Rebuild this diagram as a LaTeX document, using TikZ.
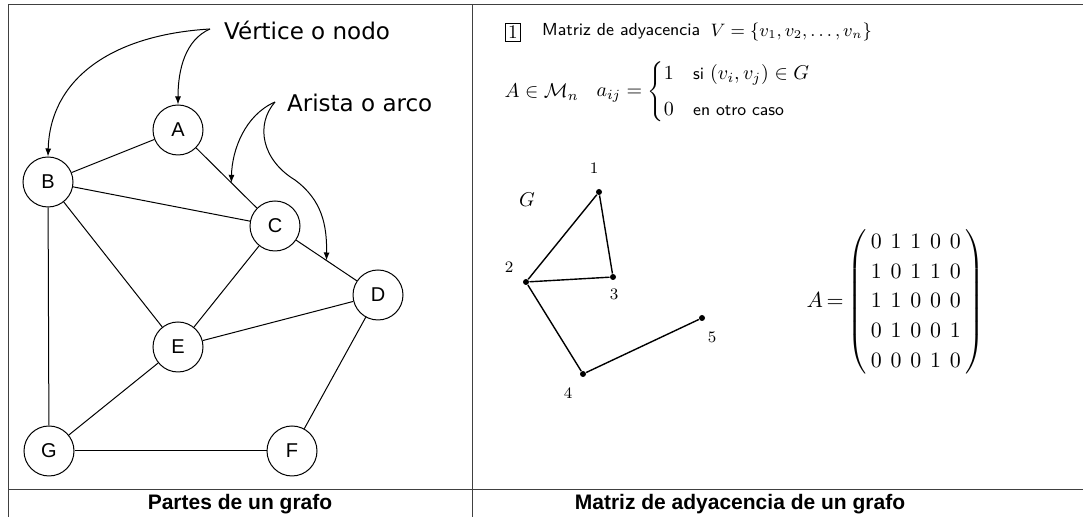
\documentclass[tikz,border=0pt]{standalone}
\usepackage{amsmath}
\usepackage{fontspec}
\newfontfamily\callfont{DejaVu Sans}
\newfontfamily\arialfont{Liberation Sans}
\usetikzlibrary{arrows.meta,calc}
\newcommand{\sftxt}[1]{\text{\sffamily\fontsize{8.6}{10}\selectfont #1}}

\begin{document}
\begin{tikzpicture}[x=0.5pt,y=-0.5pt,line width=0.5pt,
vertex/.style={circle,draw,minimum size=25pt,inner sep=0pt,font=\arialfont\fontsize{10}{10}\selectfont},
dot/.style={circle,fill,inner sep=0pt,minimum size=3pt},
numlabel/.style={font=\fontsize{8}{9}\selectfont,inner sep=1pt},
callout/.style={-{Latex[length=4pt,width=3pt]}},
calltext/.style={anchor=west,font=\callfont\fontsize{11.5}{13}\selectfont},
mathtext/.style={anchor=west,font=\fontsize{9.6}{11.5}\selectfont,inner sep=0pt},
caption/.style={font=\arialfont\bfseries\fontsize{10.5}{12}\selectfont}]

\useasboundingbox (0,0) rectangle (1083,517);

% frame
\draw[black!75] (8,517) -- (8,5) -- (1083,5);
\draw[black!75] (472,5) -- (472,517);
\draw[black!75] (8,490) -- (1083,490);

% partes de un grafo
\node[vertex] (A) at (178,130) {A};
\node[vertex] (B) at (48,182) {B};
\node[vertex] (C) at (275,226) {C};
\node[vertex] (D) at (378,295) {D};
\node[vertex] (E) at (178,347) {E};
\node[vertex] (F) at (292,451) {F};
\node[vertex] (G) at (49,451) {G};

\draw (A) -- (B);
\draw (A) -- (C);
\draw (B) -- (C);
\draw (B) -- (E);
\draw (B) -- (G);
\draw (C) -- (E);
\draw (C) -- (D);
\draw (D) -- (E);
\draw (D) -- (F);
\draw (E) -- (G);
\draw (G) -- (F);

\node[calltext] (vlab) at (217,30) {Vértice o nodo};
\node[calltext] (alab) at (280,103) {Arista o arco};
\coordinate (vfrom) at (210,29);
\coordinate (afrom) at (275,102);
\coordinate (tipAC) at ($(A)!0.55!(C)$);
\coordinate (tipCD) at ($(C)!0.5!(D)$);

\draw[callout] (vfrom) .. controls (110,35) and (50,80) .. (B.north);
\draw[callout] (vfrom) .. controls (185,40) and (178,70) .. (A.north);
\draw[callout] (afrom) .. controls (245,115) and (232,150) .. (tipAC);
\draw[callout] (afrom) .. controls (255,125) and (262,160) .. (295,180)
  .. controls (322,200) and (327,225) .. (tipCD);

\node[caption] (cap1) at (240,504) {Partes de un grafo};

% matriz de adyacencia
\node[draw,inner sep=1.3pt,font=\fontsize{9.6}{11.5}\selectfont,line width=0.4pt] (box) at (513,32) {1};
\node[anchor=west,font=\sffamily\fontsize{8.7}{10.5}\selectfont] (title) at (535,31) {Matriz de adyacencia};
\node[mathtext,font=\fontsize{8.6}{10.5}\selectfont] (vset) at (710,32) {$V=\{v_1,v_2,\ldots,v_n\}$};
\node[mathtext] (amn) at (504,92) {$A\in\mathcal{M}_n$};
\node[mathtext] (aij) at (596,92) {$a_{ij}=\begin{cases}1 & \sftxt{si } (v_i,v_j)\in G\\[4pt]
  0 & \sftxt{en otro caso}\end{cases}$};

\node[font=\fontsize{10}{12}\selectfont\itshape] (gname) at (527,200) {$G$};
\node[dot] (v1) at (599,192) {};
\node[dot] (v2) at (526,282) {};
\node[dot] (v3) at (613,277) {};
\node[dot] (v4) at (583,374) {};
\node[dot] (v5) at (702,318) {};
\node[numlabel] (l1) at (594,168) {1};
\node[numlabel] (l2) at (509,267) {2};
\node[numlabel] (l3) at (614,294) {3};
\node[numlabel] (l4) at (568,393) {4};
\node[numlabel] (l5) at (712,337) {5};

\draw[line width=0.7pt] (v1) -- (v2);
\draw[line width=0.7pt] (v1) -- (v3);
\draw[line width=0.7pt] (v2) -- (v3);
\draw[line width=0.7pt] (v2) -- (v4);
\draw[line width=0.7pt] (v4) -- (v5);

\node[anchor=west,inner sep=0pt,font=\fontsize{10.5}{12.6}\selectfont] (amat) at (806,302) {%
  \setlength{\arraycolsep}{2.2pt}\renewcommand{\arraystretch}{1.19}%
  $A\mkern-2mu=\mkern-2mu\left(\begin{array}{ccccc}
  0&1&1&0&0\\
  1&0&1&1&0\\
  1&1&0&0&0\\
  0&1&0&0&1\\
  0&0&0&1&0
  \end{array}\right)$};

\node[caption] (cap2) at (740,504) {Matriz de adyacencia de un grafo};

\end{tikzpicture}
\end{document}
